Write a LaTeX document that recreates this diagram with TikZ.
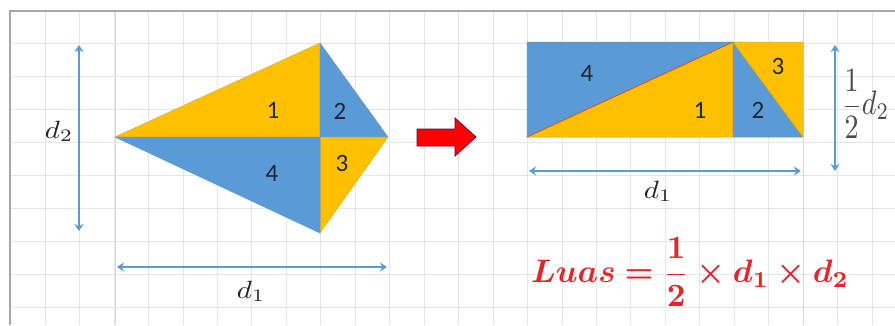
\documentclass[tikz,border=0pt]{standalone}
\usepackage{graphicx}
\usepackage{amsmath,bm}
\usepackage{fontspec}
\newfontfamily\numfont{Carlito}
\usetikzlibrary{arrows.meta}
\definecolor{kyellow}{HTML}{FFC000}
\definecolor{kblue}{HTML}{5B9BD5}
\definecolor{numcol}{HTML}{1F2535}
\definecolor{labcol}{HTML}{222222}
\definecolor{halfcol}{HTML}{4A4A4A}
\definecolor{formred}{HTML}{E4262C}
\definecolor{gridc}{HTML}{E6E6E6}
\definecolor{gridm}{HTML}{D8D8D8}
\definecolor{framec}{HTML}{A6A6A6}
\tikzset{
  yel/.style={fill=kyellow, draw=kyellow!70!gray, line width=0.5pt, line join=round},
  blu/.style={fill=kblue, draw=kblue!80!gray, line width=0.5pt, line join=round},
  num/.style={font=\numfont\fontsize{25}{27}\selectfont, text=numcol, inner sep=0pt},
  dimarrow/.style={draw=kblue, line width=2.6pt, {Stealth[length=7pt,width=9pt]}-{Stealth[length=7pt,width=9pt]}},
  dlab/.style={text=labcol, inner sep=0pt, anchor=base},
}
\begin{document}
\begin{tikzpicture}[x=1pt,y=-1pt]
\useasboundingbox (0,0) rectangle (895,325);
\fill[white] (0,0) rectangle (895,325);
% grid
\foreach \i in {1,...,25} {
  \pgfmathsetmacro{\xx}{10.6+34.46*\i}
  \draw[gridc, line width=0.8pt] (\xx,11) -- (\xx,325);
}
\foreach \i in {1,...,9} {
  \pgfmathsetmacro{\yy}{10+33*\i}
  \draw[gridc, line width=0.8pt] (10,\yy) -- (895,\yy);
}
\foreach \xx in {115,803} {
  \draw[gridm, line width=0.9pt] (\xx,11) -- (\xx,325);
}
% frame
\draw[framec, line width=2pt] (10,325) -- (10,11) -- (895,11);

% kite
\coordinate (kl) at (115,137);
\coordinate (kt) at (320,43);
\coordinate (kb) at (320,233);
\coordinate (kr) at (388,137);
\coordinate (kc) at (320,137);
\path[yel] (kl) -- (kt) -- (kc) -- cycle;
\path[blu] (kt) -- (kr) -- (kc) -- cycle;
\path[yel] (kc) -- (kr) -- (kb) -- cycle;
\path[blu] (kl) -- (kc) -- (kb) -- cycle;
\node[num] (k1) at (273,110) {1};
\node[num] (k2) at (340,111) {2};
\node[num] (k3) at (342,163) {3};
\node[num] (k4) at (272,173) {4};

% kite dimension arrows
\coordinate (d2top) at (79,45);
\coordinate (d2bot) at (79,231);
\draw[dimarrow] (d2top) -- (d2bot);
\node[dlab] (d2lab) at (59,138) {\scalebox{2.9}[2.5]{$d_2$}};
\coordinate (d1l) at (117,267);
\coordinate (d1r) at (387,267);
\draw[dimarrow] (d1l) -- (d1r);
\node[dlab] (d1lab) at (251,298) {\scalebox{2.9}[2.5]{$d_1$}};

% red arrow
\path[fill=red, draw=red!55!black!70!blue, line width=0.8pt, line join=miter]
  (417,129) -- (455,129) -- (455,118) -- (476,137) -- (455,156) -- (455,146) -- (417,146) -- cycle;

% rectangle
\coordinate (rtl) at (527,42);
\coordinate (rbl) at (527,137);
\coordinate (rtm) at (733,42);
\coordinate (rbm) at (733,137);
\coordinate (rtr) at (803,42);
\coordinate (rbr) at (803,137);
\path[blu] (rtl) -- (rtm) -- (rbl) -- cycle;
\path[yel] (rbl) -- (rtm) -- (rbm) -- cycle;
\path[blu] (rtm) -- (rbm) -- (rbr) -- cycle;
\path[yel] (rtm) -- (rtr) -- (rbr) -- cycle;
\draw[red!50!brown, line width=0.7pt] (rbl) -- (rtm);
\node[num] (r4) at (587,73) {4};
\node[num] (r1) at (700,110) {1};
\node[num] (r2) at (758,110) {2};
\node[num] (r3) at (778,66) {3};

% rectangle dimension arrows
\coordinate (rd1l) at (529,171);
\coordinate (rd1r) at (801,171);
\draw[dimarrow] (rd1l) -- (rd1r);
\node[dlab] (rd1lab) at (658,198) {\scalebox{2.9}[2.5]{$d_1$}};
\coordinate (rd2t) at (835,45);
\coordinate (rd2b) at (835,171);
\draw[dimarrow] (rd2t) -- (rd2b);
\node[text=halfcol, inner sep=0pt, anchor=west] (halfd2) at (841,104) {\resizebox{48pt}{45pt}{$\dfrac{1}{2}d_2$}};

% formula
\node[text=formred, inner sep=0pt] (formula) at (690,272)
  {\resizebox{318pt}{!}{$\bm{Luas = \dfrac{1}{2}\times d_1\times d_2}$}};
\end{tikzpicture}
\end{document}
